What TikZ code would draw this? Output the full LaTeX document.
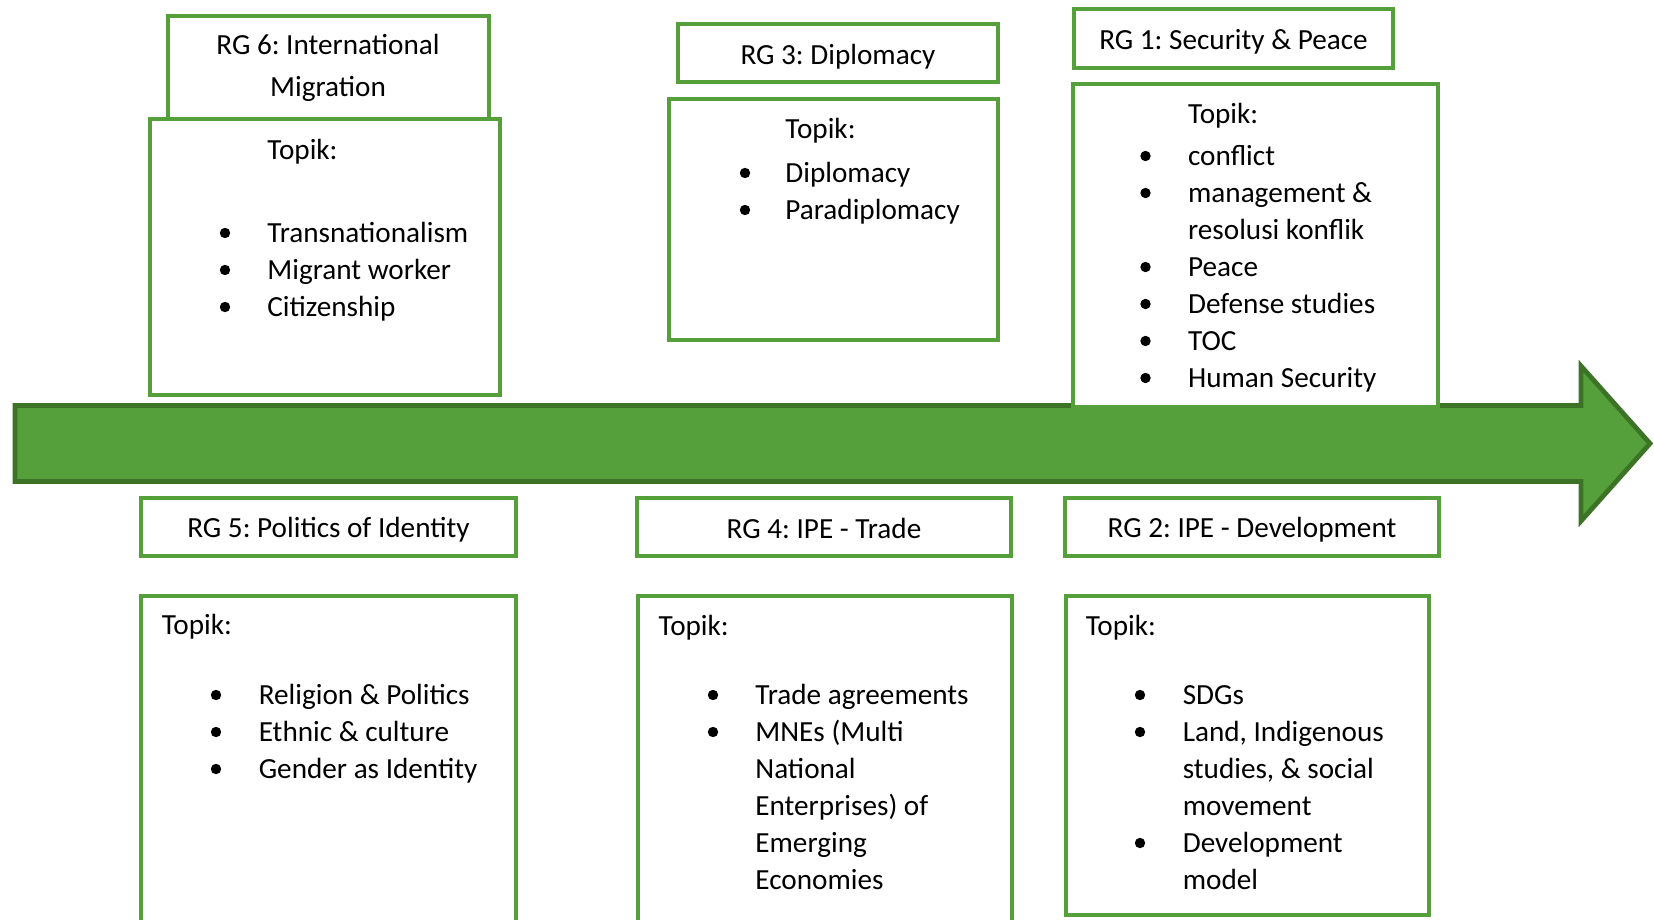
\documentclass[tikz,border=0pt]{standalone}
\usepackage{fontspec}
\setmainfont{Carlito}
\frenchspacing
\definecolor{rggreen}{RGB}{86,160,60}
\definecolor{rgdark}{RGB}{60,115,38}
\newcommand{\rgfont}{\fontsize{14.6}{18.5}\selectfont}
\newcommand{\rglines}[1]{\begin{tabular}[t]{@{}l@{}}#1\end{tabular}}

\begin{document}
\begin{tikzpicture}[x=0.5pt,y=-0.5pt]
\tikzstyle{every node}+=[inner sep=0pt, font=\rgfont, yshift=-1pt]
\tikzstyle{rgbox}=[draw=rggreen, line width=2pt, fill=white]
\tikzstyle{txt}=[anchor=base west]
\tikzstyle{head}=[anchor=base]
\useasboundingbox (0,0) rectangle (1654,920);
% timeline arrow
\draw [rgdark, line width=2.4pt, fill=rggreen] (15,405.5) -- (1581,405.5) -- (1581,366) -- (1650,443.5) -- (1581,521) -- (1581,481.5) -- (15,481.5) -- cycle;
% upper row
\draw [rgbox] (168,16) rectangle (489,119);
\draw [rgbox] (150,119) rectangle (500,395);
\draw [rgbox] (678,24) rectangle (998,82);
\draw [rgbox] (669,99) rectangle (998,340);
\draw [rgbox] (1074,9) rectangle (1393,68);
\draw [rgbox] (1073,84) rectangle (1438,407);
% lower row
\draw [rgbox] (141,498) rectangle (516,556);
\draw [rgbox] (141,596) rectangle (516,940);
\draw [rgbox] (637,498) rectangle (1011,556);
\draw [rgbox] (638,596) rectangle (1012,940);
\draw [rgbox] (1065,498) rectangle (1439,556);
\draw [rgbox] (1066,596) rectangle (1429,915);
% headings
\node [head] (rg6head) at (328,52.7) {\begin{tabular}[t]{@{}c@{}}RG 6: International\\[2.5pt]Migration\end{tabular}};
\node [head] (rg3head) at (838,62.2) {RG 3: Diplomacy};
\node [head] (rg1head) at (1233.5,47.5) {RG 1: Security \& Peace};
\node [head] (rg5head) at (328.5,535.8) {RG 5: Politics of Identity};
\node [head] (rg4head) at (824,536.9) {RG 4: IPE - Trade};
\node [head] (rg2head) at (1252,535.8) {RG 2: IPE - Development};
% topik
\node [txt] (rg6topik) at (267,157.2) {Topik:};
\node [txt] (rg3topik) at (785,137) {Topik:};
\node [txt] (rg1topik) at (1187.7,121.3) {Topik:};
\node [txt] (rg5topik) at (161.4,632.9) {Topik:};
\node [txt] (rg4topik) at (658.2,633.9) {Topik:};
\node [txt] (rg2topik) at (1085.4,633.9) {Topik:};
% lists
\node [txt] (rg6list) at (267,240.5) {\rglines{Transnationalism\\Migrant worker\\Citizenship}};
\node [txt] (rg3list) at (785,180.4) {\rglines{Diplomacy\\Paradiplomacy}};
\node [txt] (rg1list) at (1187.7,163.5) {\rglines{conflict\\management \&\\resolusi konflik\\Peace\\Defense studies\\TOC\\Human Security}};
\node [txt] (rg5list) at (258.4,702.5) {\rglines{Religion \& Politics\\Ethnic \& culture\\Gender as Identity}};
\node [txt] (rg4list) at (755,702.5) {\rglines{Trade agreements\\MNEs (Multi\\National\\Enterprises) of\\Emerging\\Economies}};
\node [txt] (rg2list) at (1182.4,702.5) {\rglines{SDGs\\Land, Indigenous\\studies, \& social\\movement\\Development\\model}};
% bullets
\foreach \x/\y in {225/233, 225/270, 225/307,
  745/173, 745/210,
  1145.5/156, 1145.5/193, 1145.5/267, 1145.5/304, 1145.5/341, 1145.5/378,
  216/695, 216/732, 216/769,
  713/695, 713/732,
  1140/695, 1140/732, 1140/843}
  \fill [black] (\x,\y) circle (2.6pt);
\end{tikzpicture}
\end{document}
